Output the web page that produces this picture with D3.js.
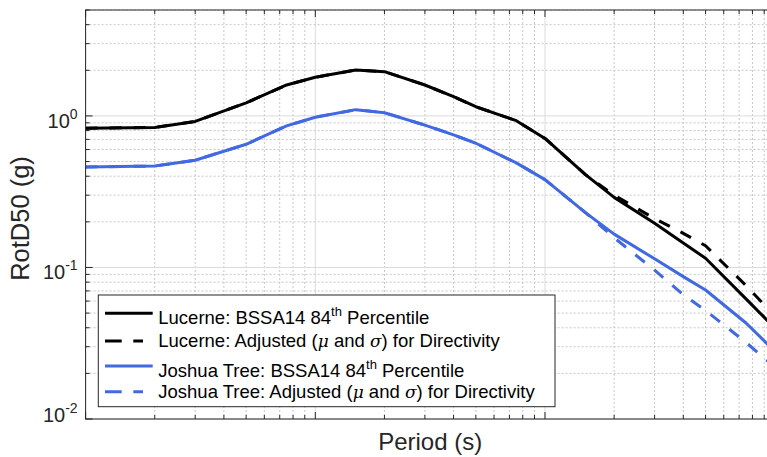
<!DOCTYPE html>
<html>
<head>
<meta charset="utf-8">
<script src="https://cdn.jsdelivr.net/npm/d3@7"></script>
<style>
  body { margin: 0; background: #fff; }
  svg { display: block; font-family: "Liberation Sans", Arial, Helvetica, sans-serif; }
</style>
</head>
<body>
<svg id="chart"></svg>
<script>
// periods (s) and spectral values (g)
const periods = [0.01, 0.02, 0.03, 0.05, 0.075, 0.1, 0.15, 0.2, 0.3, 0.4, 0.5, 0.75, 1, 1.5, 2, 3, 4, 5, 7.5, 10];

const lucerneBase = [0.83, 0.84, 0.92, 1.22, 1.60, 1.80, 2.01, 1.96, 1.60, 1.34, 1.15, 0.93, 0.71, 0.41, 0.29, 0.196, 0.145, 0.115, 0.062, 0.040];
const lucerneAdj  = [0.83, 0.84, 0.92, 1.22, 1.60, 1.80, 2.01, 1.96, 1.60, 1.34, 1.15, 0.93, 0.71, 0.41, 0.30, 0.21, 0.168, 0.139, 0.076, 0.048];
const joshuaBase  = [0.46, 0.467, 0.51, 0.65, 0.86, 0.98, 1.10, 1.05, 0.87, 0.75, 0.66, 0.49, 0.38, 0.23, 0.166, 0.114, 0.087, 0.071, 0.043, 0.028];
const joshuaAdj   = [0.46, 0.467, 0.51, 0.65, 0.86, 0.98, 1.10, 1.05, 0.87, 0.75, 0.66, 0.49, 0.38, 0.23, 0.157, 0.096, 0.066, 0.052, 0.032, 0.022];

const xDecades = [0.01, 0.1, 1, 10];
const yDecades = [0.01, 0.1, 1];
const yTickExps = ["-2", "-1", "0"];

const series = [
  { name: "lucerneBase", values: lucerneBase, color: "#000000", dashed: false },
  { name: "lucerneAdj",  values: lucerneAdj,  color: "#000000", dashed: true },
  { name: "joshuaBase",  values: joshuaBase,  color: "#4169e1", dashed: false },
  { name: "joshuaAdj",   values: joshuaAdj,   color: "#4169e1", dashed: true }
];

const W = 767, H = 457;
const margin = { top: 10, left: 85.6 },
      width = 689.1,   // right edge falls outside the window, as in the figure
      height = 409;

const svg = d3.select("#chart").attr("width", W).attr("height", H);
const g = svg.append("g").attr("transform", `translate(${margin.left},${margin.top})`);

const x = d3.scaleLog().domain([0.01, 10]).range([0, width]);
const y = d3.scaleLog().domain([0.01, 5]).range([height, 0]);

// minor positions: 1..9 times each decade
function logSteps(decades, lo, hi) {
  const out = [];
  decades.forEach(d => { for (let k = 1; k <= 9; k++) { const v = d * k; if (v >= lo * 0.999 && v <= hi * 1.001) out.push(v); } });
  return out;
}
const xAll = logSteps(xDecades, 0.01, 10);
const yAll = logSteps(yDecades, 0.01, 5);
const isMajor = v => Math.abs(Math.log10(v) - Math.round(Math.log10(v))) < 1e-6;

// grid
const grid = g.append("g");
xAll.forEach(v => {
  grid.append("line")
    .attr("x1", x(v)).attr("x2", x(v)).attr("y1", 0).attr("y2", height)
    .attr("stroke", isMajor(v) ? "#dadada" : "#c8c8c8")
    .attr("stroke-dasharray", isMajor(v) ? null : "2,2")
    .attr("stroke-width", 1);
});
yAll.forEach(v => {
  grid.append("line")
    .attr("x1", 0).attr("x2", width).attr("y1", y(v)).attr("y2", y(v))
    .attr("stroke", isMajor(v) ? "#dadada" : "#c8c8c8")
    .attr("stroke-dasharray", isMajor(v) ? null : "2,2")
    .attr("stroke-width", 1);
});

// lines
const line = d3.line().x(d => x(d[0])).y(d => y(d[1]));
g.append("clipPath").attr("id", "clip").append("rect").attr("width", width).attr("height", height);
const lines = g.append("g").attr("clip-path", "url(#clip)");
series.forEach(s => {
  lines.append("path")
    .datum(periods.map((p, i) => [p, s.values[i]]))
    .attr("fill", "none")
    .attr("stroke", s.color)
    .attr("stroke-width", 3)
    .attr("stroke-linejoin", "round")
    .attr("stroke-dasharray", s.dashed ? "12,12" : null)
    .attr("d", line);
});

// axes frame + inward ticks
const axisColor = "#262626";
const tickLen = v => isMajor(v) ? 7 : 4;
const axes = g.append("g").attr("stroke", axisColor).attr("stroke-width", 1);
axes.append("rect").attr("x", 0).attr("y", 0).attr("width", width).attr("height", height)
  .attr("fill", "none");
xAll.forEach(v => {
  axes.append("line").attr("x1", x(v)).attr("x2", x(v)).attr("y1", height).attr("y2", height - tickLen(v));
  axes.append("line").attr("x1", x(v)).attr("x2", x(v)).attr("y1", 0).attr("y2", tickLen(v));
});
yAll.forEach(v => {
  axes.append("line").attr("x1", 0).attr("x2", tickLen(v)).attr("y1", y(v)).attr("y2", y(v));
  axes.append("line").attr("x1", width).attr("x2", width - tickLen(v)).attr("y1", y(v)).attr("y2", y(v));
});

// y tick labels 10^n
yDecades.forEach((v, i) => {
  const base = y(v) + (i === 0 ? 2.7 : 11.7);
  const t = g.append("text")
    .attr("x", -8).attr("y", base)
    .attr("text-anchor", "end")
    .attr("fill", "#262626")
    .style("font-size", "20px");
  t.append("tspan").text("10");
  t.append("tspan").attr("dy", -9).style("font-size", "14px").text(yTickExps[i]);
});

// axis titles
svg.append("text")
  .attr("x", margin.left + width / 2).attr("y", 450)
  .attr("text-anchor", "middle")
  .attr("fill", "#262626")
  .style("font-size", "24px")
  .text("Period (s)");

svg.append("text")
  .attr("transform", `translate(29,${margin.top + height / 2 + 4}) rotate(-90)`)
  .attr("text-anchor", "middle")
  .attr("fill", "#262626")
  .style("font-size", "25.5px")
  .text("RotD50 (g)");

// legend
const legendRows = [
  { s: series[0], parts: [["Lucerne: BSSA14 84"], ["th", "sup"], [" Percentile"]] },
  { s: series[1], parts: [["Lucerne: Adjusted ("], ["\u03bc", "greek"], [" and "], ["\u03c3", "greek"], [") for Directivity"]] },
  { s: series[2], parts: [["Joshua Tree: BSSA14 84"], ["th", "sup"], [" Percentile"]] },
  { s: series[3], parts: [["Joshua Tree: Adjusted ("], ["\u03bc", "greek"], [" and "], ["\u03c3", "greek"], [") for Directivity"]] }
];
const rowY = [313.3, 341, 366, 391.7];

const legend = svg.append("g");
legend.append("rect")
  .attr("x", 98.3).attr("y", 295).attr("width", 456.7).attr("height", 111.7)
  .attr("fill", "#fff").attr("stroke", "#262626").attr("stroke-width", 1);

legendRows.forEach((r, i) => {
  const ly = rowY[i];
  const hasSup = r.parts.some(p => p[1] === "sup");
  legend.append("line")
    .attr("x1", 105).attr("x2", r.s.dashed ? 143 : 152.7)
    .attr("y1", ly).attr("y2", ly)
    .attr("stroke", r.s.color).attr("stroke-width", 3)
    .attr("stroke-dasharray", r.s.dashed ? "16.7,11.6" : null);
  const t = legend.append("text")
    .attr("x", 158.3).attr("y", ly + (hasSup ? 10.5 : 5.8))
    .attr("fill", "#000")
    .style("font-size", "18.5px");
  let raised = false;
  r.parts.forEach(p => {
    const ts = t.append("tspan").text(p[0]);
    if (p[1] === "sup") { ts.attr("dy", -8).style("font-size", "13px"); raised = true; }
    else if (raised) { ts.attr("dy", 8); raised = false; }
    if (p[1] === "greek") ts.style("font-family", "'DejaVu Serif', 'Liberation Serif', serif").style("font-style", "italic").style("font-size", "17px");
  });
});
</script>
</body>
</html>
